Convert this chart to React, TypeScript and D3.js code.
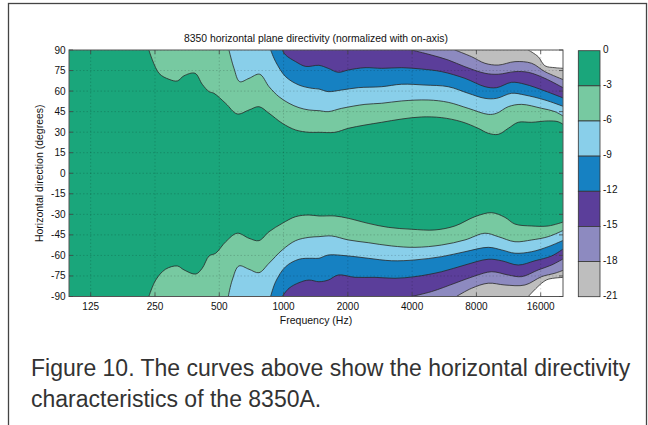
import React from 'react';
import * as d3 from 'd3';

type Pt = [number, number];

const xTicks = [125, 250, 500, 1000, 2000, 4000, 8000, 16000];
const yTicks = [90, 75, 60, 45, 30, 15, 0, -15, -30, -45, -60, -75, -90];
const levels = [0, -3, -6, -9, -12, -15, -18, -21];
const bandColors = ['#1aa67b', '#77c9a1', '#89cfea', '#1681c2', '#5b3e9a', '#8d8ac0', '#bebebe'];

// Contour boundaries: [frequency Hz, angle deg]
const upper3: Pt[] = [[234,90],[261,73],[291,68.6],[318,67.4],[342,71.2],[385,73],[416,65],[448,59.6],[472,58.4],[536,51],[607,43.3],[689,46.2],[767,48.6],[855,43.8],[986,36.5],[1139,31.6],[1315,29.9],[1464,29.9],[1740,29.9],[2009,32.8],[2405,35.2],[2880,37.2],[3573,39.6],[4431,41.1],[5498,40.6],[6821,37.6],[8158,32.8],[9088,29.2],[10124,28.4],[11278,32.8],[12558,37.2],[14512,37.2],[17356,38.2],[19322,37.6],[20600,35.2]];
const upper6: Pt[] = [[555,90],[586,76.6],[623,66.9],[689,69.3],[773,72.3],[855,63.2],[951,55.9],[1060,51.1],[1181,47.9],[1315,46.2],[1464,45.7],[1619,45],[1871,47.4],[2405,50.3],[2880,51.1],[3573,52.8],[4757,53.5],[5902,51.8],[7322,47.4],[9088,43],[9950,43.8],[11278,48.6],[13027,50.3],[16160,47.4],[18650,45],[20600,41.3]];
const upper9: Pt[] = [[870,90],[918,81.5],[1023,70.5],[1181,64.4],[1362,62],[1464,61.5],[1619,59.6],[1871,60.8],[2238,62.5],[2880,63.2],[3573,65],[4590,64.4],[5902,63.2],[7322,58.4],[8771,54.7],[9950,54.7],[11692,58.4],[13497,57.1],[16742,53.5],[20600,48.6]];
const upper12: Pt[] = [[986,90],[1023,86.3],[1139,81.5],[1270,78],[1464,78.8],[1619,76.6],[1804,73.7],[2009,75.4],[2405,77.1],[2880,76.6],[3573,77.1],[4431,76.1],[5498,74.2],[7067,69.3],[8771,63.2],[9950,62.5],[11692,66.4],[13497,65],[16742,60.1],[20600,54.7]];
const upper15: Pt[] = [[3978,90],[4933,86.3],[5902,82.7],[7067,77.8],[8771,73],[10124,72.3],[12120,74.2],[13990,73.7],[16742,69.3],[20600,62]];
const upper18: Pt[] = [[6345,90],[7595,85.1],[8771,80.3],[10124,79],[12120,81.5],[14512,80.3],[16742,74.2],[20600,68.1]];
const upper21: Pt[] = [[13990,90],[15577,85.1],[16742,78.5],[18650,77.1],[20600,76.6]];

const lower3: Pt[] = [[234,-90],[252,-78],[280,-70.1],[318,-67.7],[342,-70.6],[388,-73.6],[416,-69.4],[448,-60.4],[481,-58.4],[536,-50],[607,-43.8],[689,-47.5],[767,-49.2],[855,-42.7],[986,-36.6],[1139,-31.7],[1315,-30.5],[1464,-31.2],[1740,-31.2],[2009,-32.9],[2491,-36.6],[3091,-39.5],[3978,-40.9],[5114,-41.4],[6345,-38.5],[7873,-31.7],[9428,-28.8],[10880,-32.2],[12120,-37.1],[14512,-38.5],[17356,-38.5],[20600,-35.4]];
const lower6: Pt[] = [[551,-90],[575,-78],[618,-67.7],[689,-70.1],[767,-72.6],[855,-65.7],[986,-56],[1139,-49.2],[1315,-46.8],[1464,-46.3],[1680,-45.8],[2009,-48.7],[2491,-50.7],[3207,-53.1],[4124,-54.1],[5498,-52.4],[7067,-48.7],[8771,-43.8],[10124,-46.3],[12120,-50],[14512,-48.7],[17356,-46.3],[20600,-41.4]];
const lower9: Pt[] = [[870,-90],[918,-79.2],[1023,-68.2],[1181,-62.8],[1362,-62.1],[1464,-62.1],[1619,-59.7],[2009,-60.4],[2491,-62.1],[3207,-63.9],[4124,-63.3],[5498,-60.9],[7067,-57.3],[9088,-54.1],[10502,-56],[12120,-58.4],[14512,-57.3],[17356,-53.6],[20600,-48.7]];
const lower12: Pt[] = [[986,-90],[1060,-84],[1181,-79.9],[1315,-78],[1464,-79.2],[1619,-78],[1804,-74.3],[2159,-76],[2678,-76],[3324,-76.7],[4124,-75.5],[5498,-71.9],[7067,-67],[9088,-62.8],[10502,-63.9],[12558,-67],[15035,-63.9],[17995,-60.4],[20600,-54.8]];
const lower15: Pt[] = [[3978,-90],[4933,-86.4],[6345,-80.3],[7873,-75],[9428,-71.9],[11278,-74.3],[13027,-75.5],[15577,-70.6],[17995,-67],[20600,-62.1]];
const lower18: Pt[] = [[6450,-90],[7595,-84],[9088,-80.3],[10880,-81.6],[13497,-81.6],[16160,-75.5],[18650,-73],[20600,-70.6]];
const lower21: Pt[] = [[13990,-90],[16160,-80.3],[17356,-77.4],[20600,-76]];

const uppers = [upper3, upper6, upper9, upper12, upper15, upper18, upper21];
const lowers = [lower3, lower6, lower9, lower12, lower15, lower18, lower21];

const FONT = '"Liberation Sans", Arial, Helvetica, sans-serif';

export default function App() {
  const W = 648, H = 425;
  const P = { left: 69, right: 563, top: 50, bottom: 296.5 };
  const x = d3.scaleLog().domain([125, 16000]).range([90.7, 540.7]);
  const y = d3.scaleLinear().domain([-90, 90]).range([P.bottom, P.top]);
  const line = d3.line<Pt>().x(d => x(d[0])).y(d => y(d[1])).curve(d3.curveCatmullRom.alpha(0.5));

  const regionPath = (u: Pt[], l: Pt[]) => {
    const up = line(u)!.replace(/^M/, 'L');
    const lp = line([...l].reverse())!.replace(/^M/, 'L');
    return `M${P.left - 2},${P.top - 2}L${x(u[0][0])},${P.top - 2}${up}${lp}L${x(l[0][0])},${P.bottom + 2}L${P.left - 2},${P.bottom + 2}Z`;
  };

  const regionOrder = d3.range(6, -1, -1);

  const cb = { x: 578.3, w: 21.7, top: 50.7, bottom: 296.7 };
  const cy = d3.scaleLinear().domain([0, -21]).range([cb.top, cb.bottom]);

  return (
    <svg width={W} height={H} style={{ position: 'absolute', left: 0, top: 0, display: 'block' }} fontFamily={FONT}>
      <rect x={0} y={0} width={W} height={H} fill="#fff" />
      <rect x={8.5} y={3.5} width={638} height={440} fill="none" stroke="#444" strokeWidth={1.3} />
      <defs>
        <clipPath id="plotclip">
          <rect x={P.left} y={P.top} width={P.right - P.left} height={P.bottom - P.top} />
        </clipPath>
      </defs>
      <text x={(P.left + P.right) / 2} y={41.5} textAnchor="middle" fontSize={10.4} fill="#111">
        8350 horizontal plane directivity (normalized with on-axis)
      </text>
      <g clipPath="url(#plotclip)">
        <rect x={P.left} y={P.top} width={P.right - P.left} height={P.bottom - P.top} fill="#fff" />
        {regionOrder.map(i => (
          <path key={'r' + i} d={regionPath(uppers[i], lowers[i])} fill={bandColors[i]} />
        ))}
        {xTicks.map(t => (
          <line key={'gx' + t} x1={x(t)} x2={x(t)} y1={P.top} y2={P.bottom} stroke="#000" strokeOpacity={0.2} strokeDasharray="1.5,2" strokeWidth={0.8} />
        ))}
        {yTicks.map(t => (
          <line key={'gy' + t} x1={P.left} x2={P.right} y1={y(t)} y2={y(t)} stroke="#000" strokeOpacity={0.2} strokeDasharray="1.5,2" strokeWidth={0.8} />
        ))}
        {[...uppers, ...lowers].map((c, i) => (
          <path key={'c' + i} d={line(c)!} fill="none" stroke="#2a2a2a" strokeWidth={0.8} />
        ))}
      </g>
      <rect x={P.left} y={P.top} width={P.right - P.left} height={P.bottom - P.top} fill="none" stroke="#555" strokeWidth={1} />
      {xTicks.map(t => (
        <g key={'tx' + t}>
          <line x1={x(t)} x2={x(t)} y1={P.bottom} y2={P.bottom - 4} stroke="#444" strokeWidth={0.8} />
          <line x1={x(t)} x2={x(t)} y1={P.top} y2={P.top + 4} stroke="#444" strokeWidth={0.8} />
          <text x={x(t)} y={310} textAnchor="middle" fontSize={10} fill="#111">{t}</text>
        </g>
      ))}
      {yTicks.map(t => (
        <g key={'ty' + t}>
          <line x1={P.left} x2={P.left + 4} y1={y(t)} y2={y(t)} stroke="#444" strokeWidth={0.8} />
          <line x1={P.right} x2={P.right - 4} y1={y(t)} y2={y(t)} stroke="#444" strokeWidth={0.8} />
          <text x={65.5} y={y(t)} dy="0.35em" textAnchor="end" fontSize={10} fill="#111">{t}</text>
        </g>
      ))}
      <text x={(P.left + P.right) / 2} y={324} textAnchor="middle" fontSize={10.5} fill="#111">Frequency (Hz)</text>
      <text transform={`translate(43,${(P.top + P.bottom) / 2}) rotate(-90)`} textAnchor="middle" fontSize={10.5} fill="#111">
        Horizontal direction (degrees)
      </text>
      {bandColors.map((c, i) => (
        <rect key={'cb' + i} x={cb.x} y={cy(levels[i])} width={cb.w} height={cy(levels[i + 1]) - cy(levels[i])} fill={c} stroke="#333" strokeWidth={0.8} />
      ))}
      {levels.map(l => (
        <text key={'cl' + l} x={cb.x + cb.w + 3} y={cy(l)} dy="0.2em" fontSize={10} fill="#111">{l}</text>
      ))}
      <text x={31} y={376} fontSize={23} fill="#333">Figure 10. The curves above show the horizontal directivity</text>
      <text x={31} y={406.5} fontSize={23} fill="#333">characteristics of the 8350A.</text>
    </svg>
  );
}
